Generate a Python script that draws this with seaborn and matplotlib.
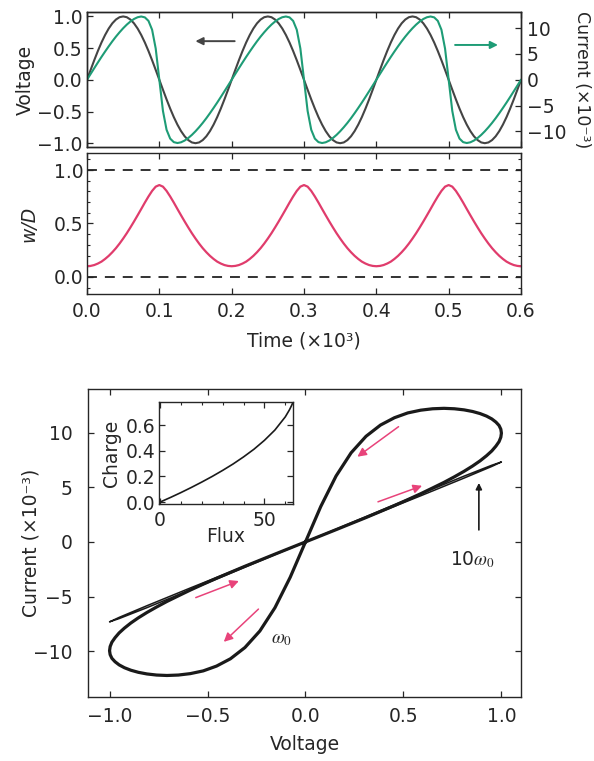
import numpy as np
import matplotlib
matplotlib.use("Agg")
import matplotlib.pyplot as plt
import seaborn as sns
from matplotlib.ticker import MultipleLocator, FuncFormatter

# ---------------- data ----------------
time = np.linspace(0.0, 0.6, 121)  # sample times (x10^3)

voltage = [
    0.000, 0.156, 0.309, 0.454, 0.588, 0.707, 0.809, 0.891, 0.951, 0.988,
    1.000, 0.988, 0.951, 0.891, 0.809, 0.707, 0.588, 0.454, 0.309, 0.156,
    0.000, -0.156, -0.309, -0.454, -0.588, -0.707, -0.809, -0.891, -0.951, -0.988,
    -1.000, -0.988, -0.951, -0.891, -0.809, -0.707, -0.588, -0.454, -0.309, -0.156,
    0.000, 0.156, 0.309, 0.454, 0.588, 0.707, 0.809, 0.891, 0.951, 0.988,
    1.000, 0.988, 0.951, 0.891, 0.809, 0.707, 0.588, 0.454, 0.309, 0.156,
    0.000, -0.156, -0.309, -0.454, -0.588, -0.707, -0.809, -0.891, -0.951, -0.988,
    -1.000, -0.988, -0.951, -0.891, -0.809, -0.707, -0.588, -0.454, -0.309, -0.156,
    0.000, 0.156, 0.309, 0.454, 0.588, 0.707, 0.809, 0.891, 0.951, 0.988,
    1.000, 0.988, 0.951, 0.891, 0.809, 0.707, 0.588, 0.454, 0.309, 0.156,
    0.000, -0.156, -0.309, -0.454, -0.588, -0.707, -0.809, -0.891, -0.951, -0.988,
    -1.000, -0.988, -0.951, -0.891, -0.809, -0.707, -0.588, -0.454, -0.309, -0.156,
    0.000,
]

current = [  # x10^-3
    0.00, 1.12, 2.23, 3.33, 4.41, 5.45, 6.46, 7.43, 8.34, 9.18,
    9.96, 10.66, 11.26, 11.75, 12.09, 12.23, 12.06, 11.38, 9.67, 6.03,
    0.00, -6.03, -9.67, -11.38, -12.06, -12.23, -12.09, -11.75, -11.26, -10.66,
    -9.96, -9.18, -8.34, -7.43, -6.46, -5.45, -4.41, -3.33, -2.23, -1.12,
    0.00, 1.12, 2.23, 3.33, 4.41, 5.45, 6.46, 7.43, 8.34, 9.18,
    9.96, 10.66, 11.26, 11.75, 12.09, 12.23, 12.06, 11.38, 9.67, 6.03,
    0.00, -6.03, -9.67, -11.38, -12.06, -12.23, -12.09, -11.75, -11.26, -10.66,
    -9.96, -9.18, -8.34, -7.43, -6.46, -5.45, -4.41, -3.33, -2.23, -1.12,
    0.00, 1.12, 2.23, 3.33, 4.41, 5.45, 6.46, 7.43, 8.34, 9.18,
    9.96, 10.66, 11.26, 11.75, 12.09, 12.23, 12.06, 11.38, 9.67, 6.03,
    0.00, -6.03, -9.67, -11.38, -12.06, -12.23, -12.09, -11.75, -11.26, -10.66,
    -9.96, -9.18, -8.34, -7.43, -6.46, -5.45, -4.41, -3.33, -2.23, -1.12,
    0.00,
]

w_over_d = [
    0.100, 0.103, 0.111, 0.125, 0.143, 0.168, 0.197, 0.231, 0.269, 0.312,
    0.359, 0.409, 0.463, 0.519, 0.577, 0.636, 0.696, 0.753, 0.805, 0.845,
    0.860, 0.845, 0.805, 0.753, 0.696, 0.636, 0.577, 0.519, 0.463, 0.409,
    0.359, 0.312, 0.269, 0.231, 0.197, 0.168, 0.143, 0.125, 0.111, 0.103,
    0.100, 0.103, 0.111, 0.125, 0.143, 0.168, 0.197, 0.231, 0.269, 0.312,
    0.359, 0.409, 0.463, 0.519, 0.577, 0.636, 0.696, 0.753, 0.805, 0.845,
    0.860, 0.845, 0.805, 0.753, 0.696, 0.636, 0.577, 0.519, 0.463, 0.409,
    0.359, 0.312, 0.269, 0.231, 0.197, 0.168, 0.143, 0.125, 0.111, 0.103,
    0.100, 0.103, 0.111, 0.125, 0.143, 0.168, 0.197, 0.231, 0.269, 0.312,
    0.359, 0.409, 0.463, 0.519, 0.577, 0.636, 0.696, 0.753, 0.805, 0.845,
    0.860, 0.845, 0.805, 0.753, 0.696, 0.636, 0.577, 0.519, 0.463, 0.409,
    0.359, 0.312, 0.269, 0.231, 0.197, 0.168, 0.143, 0.125, 0.111, 0.103,
    0.100,
]

# I-V loop at w0 (one period, finer sampling)
loop_voltage = [
    0.000, 0.078, 0.156, 0.233, 0.309, 0.383, 0.454, 0.522, 0.588, 0.649,
    0.707, 0.760, 0.809, 0.853, 0.891, 0.924, 0.951, 0.972, 0.988, 0.997,
    1.000, 0.997, 0.988, 0.972, 0.951, 0.924, 0.891, 0.853, 0.809, 0.760,
    0.707, 0.649, 0.588, 0.522, 0.454, 0.383, 0.309, 0.233, 0.156, 0.078,
    0.000, -0.078, -0.156, -0.233, -0.309, -0.383, -0.454, -0.522, -0.588, -0.649,
    -0.707, -0.760, -0.809, -0.853, -0.891, -0.924, -0.951, -0.972, -0.988, -0.997,
    -1.000, -0.997, -0.988, -0.972, -0.951, -0.924, -0.891, -0.853, -0.809, -0.760,
    -0.707, -0.649, -0.588, -0.522, -0.454, -0.383, -0.309, -0.233, -0.156, -0.078,
    0.000,
]
loop_current = [
    0.00, 0.56, 1.12, 1.68, 2.23, 2.79, 3.33, 3.87, 4.41, 4.94,
    5.45, 5.96, 6.46, 6.95, 7.42, 7.89, 8.33, 8.77, 9.18, 9.58,
    9.96, 10.32, 10.66, 10.97, 11.26, 11.52, 11.75, 11.94, 12.09, 12.19,
    12.23, 12.19, 12.06, 11.81, 11.37, 10.70, 9.67, 8.16, 6.03, 3.24,
    0.00, -3.24, -6.03, -8.16, -9.67, -10.70, -11.37, -11.81, -12.06, -12.19,
    -12.23, -12.19, -12.09, -11.94, -11.75, -11.52, -11.26, -10.97, -10.66, -10.32,
    -9.96, -9.58, -9.18, -8.77, -8.33, -7.89, -7.42, -6.95, -6.46, -5.96,
    -5.45, -4.94, -4.41, -3.87, -3.33, -2.79, -2.23, -1.68, -1.12, -0.56,
    0.00,
]

# I-V at 10 w0 (nearly collapsed loop)
voltage_10w0 = [0.000, 0.309, 0.588, 0.809, 0.951, 1.000, 0.951, 0.809, 0.588, 0.309,
                0.000, -0.309, -0.588, -0.809, -0.951, -1.000, -0.951, -0.809, -0.588, -0.309, 0.000]
current_10w0 = [0.00, 2.21, 4.22, 5.84, 6.91, 7.32, 7.02, 6.02, 4.40, 2.32,
                0.00, -2.32, -4.40, -6.02, -7.02, -7.32, -6.91, -5.84, -4.22, -2.21, 0.00]

# inset: charge vs flux
flux = [0, 5, 10, 15, 20, 25, 30, 35, 40, 45, 50, 55, 60, 62, 63, 63.7]
charge = [0.000, 0.036, 0.074, 0.114, 0.156, 0.200, 0.247, 0.297, 0.352, 0.412,
          0.481, 0.561, 0.664, 0.719, 0.752, 0.778]

# pink direction arrows on the I-V plot: (start, end)
loop_arrows = [((0.475, 10.55), (0.265, 7.8)),
               ((0.37, 3.67), (0.595, 5.14)),
               ((-0.56, -5.1), (-0.34, -3.58)),
               ((-0.24, -6.15), (-0.417, -9.15))]

# ---------------- style ----------------
sns.set_style("ticks")
plt.rcParams["font.family"] = ["DejaVu Sans"]
plt.rcParams["mathtext.fontset"] = "stix"
plt.rcParams["axes.linewidth"] = 1.0

C_V = "#444444"
C_I = "#1e9c76"
C_W = "#e03c6c"
C_ARROW = "#e8437a"
FS = 13.5

fmt1 = FuncFormatter(lambda v, p: f"{v:.1f}".replace("-", "\u2212"))
fmt0 = FuncFormatter(lambda v, p: f"{v:.0f}".replace("-", "\u2212"))

fig = plt.figure(figsize=(5.94, 7.61), dpi=100)
W, H = 594.0, 761.0
ax1 = fig.add_axes([87 / W, 1 - 147 / H, 434 / W, 135 / H])
ax2 = fig.add_axes([87 / W, 1 - 294 / H, 434 / W, 141 / H])
ax3 = fig.add_axes([88 / W, 1 - 697 / H, 433 / W, 308 / H])
axin = fig.add_axes([159 / W, 1 - 504 / H, 134 / W, 102 / H])


def style_ticks(ax, **kw):
    ax.tick_params(direction="in", which="major", length=4, width=0.9,
                   labelsize=FS, **kw)
    ax.tick_params(direction="in", which="minor", length=2.5, width=0.8, **kw)


def place_ylabel(ax, x):
    ax.yaxis.set_label_coords(x, 0.5)
    ax.yaxis.label.set_va("center")
    ax.yaxis.label.set_ha("center")
    ax.yaxis.label.set_rotation_mode("anchor")


def place_xlabel(ax, y):
    ax.xaxis.set_label_coords(0.5, y)
    ax.xaxis.label.set_va("center")


# ---------------- top panel: voltage & current vs time ----------------
sns.lineplot(x=time, y=voltage, ax=ax1, color=C_V, lw=1.5, sort=False, estimator=None)
ax1r = ax1.twinx()
sns.lineplot(x=time, y=current, ax=ax1r, color=C_I, lw=1.5, sort=False, estimator=None)
ax1.set_xlim(0, 0.6)
ax1.set_ylim(-1.06, 1.07)
ax1r.set_ylim(-13.0, 13.1)
ax1.set_xticks(np.arange(0, 0.61, 0.1))
ax1.set_yticks([-1.0, -0.5, 0.0, 0.5, 1.0])
ax1.yaxis.set_major_formatter(fmt1)
ax1r.set_yticks([-10, -5, 0, 5, 10])
ax1r.yaxis.set_major_formatter(fmt0)
style_ticks(ax1, top=True, bottom=True, left=True, right=False,
            labelbottom=False)
ax1.tick_params(axis="y", pad=3)
style_ticks(ax1r, right=True, left=False, top=False, bottom=False)
ax1r.tick_params(axis="y", pad=4)
ax1.set_ylabel("Voltage", fontsize=FS)
place_ylabel(ax1, (25 - 87) / 434)
ax1r.set_ylabel("Current (×10⁻³)", fontsize=12.5, rotation=270)
place_ylabel(ax1r, (582 - 87) / 434)
ax1.set_xlabel("")
ax1.annotate("", xy=(0.146, 0.61), xytext=(0.208, 0.61),
             arrowprops=dict(arrowstyle="-|>", color=C_V, lw=1.4, mutation_scale=11))
ax1.annotate("", xy=(0.572, 0.55), xytext=(0.505, 0.55),
             arrowprops=dict(arrowstyle="-|>", color=C_I, lw=1.4, mutation_scale=11))

# ---------------- middle panel: w/D vs time ----------------
sns.lineplot(x=time, y=w_over_d, ax=ax2, color=C_W, lw=1.6, sort=False, estimator=None)
ax2.axhline(1.0, color="#222222", lw=1.3, ls=(0, (5.5, 4.4)))
ax2.axhline(0.0, color="#222222", lw=1.3, ls=(0, (5.5, 4.4)))
ax2.set_xlim(0, 0.6)
ax2.set_ylim(-0.16, 1.16)
ax2.set_xticks(np.arange(0, 0.61, 0.1))
ax2.xaxis.set_major_formatter(fmt1)
ax2.set_yticks([0.0, 0.5, 1.0])
ax2.yaxis.set_major_formatter(fmt1)
ax2.yaxis.set_minor_locator(MultipleLocator(0.1))
style_ticks(ax2, top=True, right=True)
ax2.tick_params(axis="x", pad=6)
ax2.tick_params(axis="y", pad=2.5)
ax2.set_ylabel("w/D", fontsize=FS, style="italic")
place_ylabel(ax2, (29 - 87) / 434)
ax2.set_xlabel("Time (×10³)", fontsize=FS)
place_xlabel(ax2, (294 - 341) / 141)

# ---------------- bottom panel: I-V hysteresis ----------------
sns.lineplot(x=loop_voltage, y=loop_current, ax=ax3, color="#1a1a1a", lw=2.3,
             sort=False, estimator=None)
sns.lineplot(x=voltage_10w0, y=current_10w0, ax=ax3, color="#1a1a1a", lw=1.1,
             sort=False, estimator=None)
ax3.set_xlim(-1.11, 1.10)
ax3.set_ylim(-14.2, 14.0)
ax3.set_xticks([-1.0, -0.5, 0.0, 0.5, 1.0])
ax3.xaxis.set_major_formatter(fmt1)
ax3.set_yticks([-10, -5, 0, 5, 10])
ax3.yaxis.set_major_formatter(fmt0)
style_ticks(ax3, top=True, right=True)
ax3.tick_params(axis="x", pad=7.5)
ax3.tick_params(axis="y", pad=11)
ax3.set_xlabel("Voltage", fontsize=FS)
place_xlabel(ax3, (697 - 745) / 308)
ax3.set_ylabel("Current (×10⁻³)", fontsize=FS)
place_ylabel(ax3, (31 - 88) / 433)
for (x0, y0), (x1, y1) in loop_arrows:
    ax3.annotate("", xy=(x1, y1), xytext=(x0, y0),
                 arrowprops=dict(arrowstyle="-|>", color=C_ARROW, lw=1.1,
                                 mutation_scale=13, shrinkA=0, shrinkB=0))
ax3.annotate("", xy=(0.885, 5.4), xytext=(0.885, 1.1),
             arrowprops=dict(arrowstyle="-|>", color="#1a1a1a", lw=1.2,
                             mutation_scale=9, shrinkA=0, shrinkB=0))
ax3.text(0.85, -1.6, r"10$\omega_0$", ha="center", va="center", fontsize=FS)
ax3.text(-0.12, -8.8, r"$\omega_0$", ha="center", va="center", fontsize=FS)

# ---------------- inset: charge vs flux ----------------
sns.lineplot(x=flux, y=charge, ax=axin, color="#1a1a1a", lw=1.2, sort=False, estimator=None)
axin.set_xlim(-0.5, 63.7)
axin.set_ylim(-0.015, 0.78)
axin.set_xticks([0, 50])
axin.xaxis.set_minor_locator(MultipleLocator(10))
axin.set_yticks([0.0, 0.2, 0.4, 0.6])
axin.yaxis.set_major_formatter(fmt1)
style_ticks(axin, top=True, right=True)
axin.tick_params(axis="y", which="major", pad=2.5)
axin.tick_params(axis="x", which="major", pad=5)
axin.set_xlabel("Flux", fontsize=FS)
place_xlabel(axin, (504 - 537) / 102)
axin.set_ylabel("Charge", fontsize=FS)
place_ylabel(axin, (112 - 159) / 134)

fig.savefig("out.png", dpi=100)
